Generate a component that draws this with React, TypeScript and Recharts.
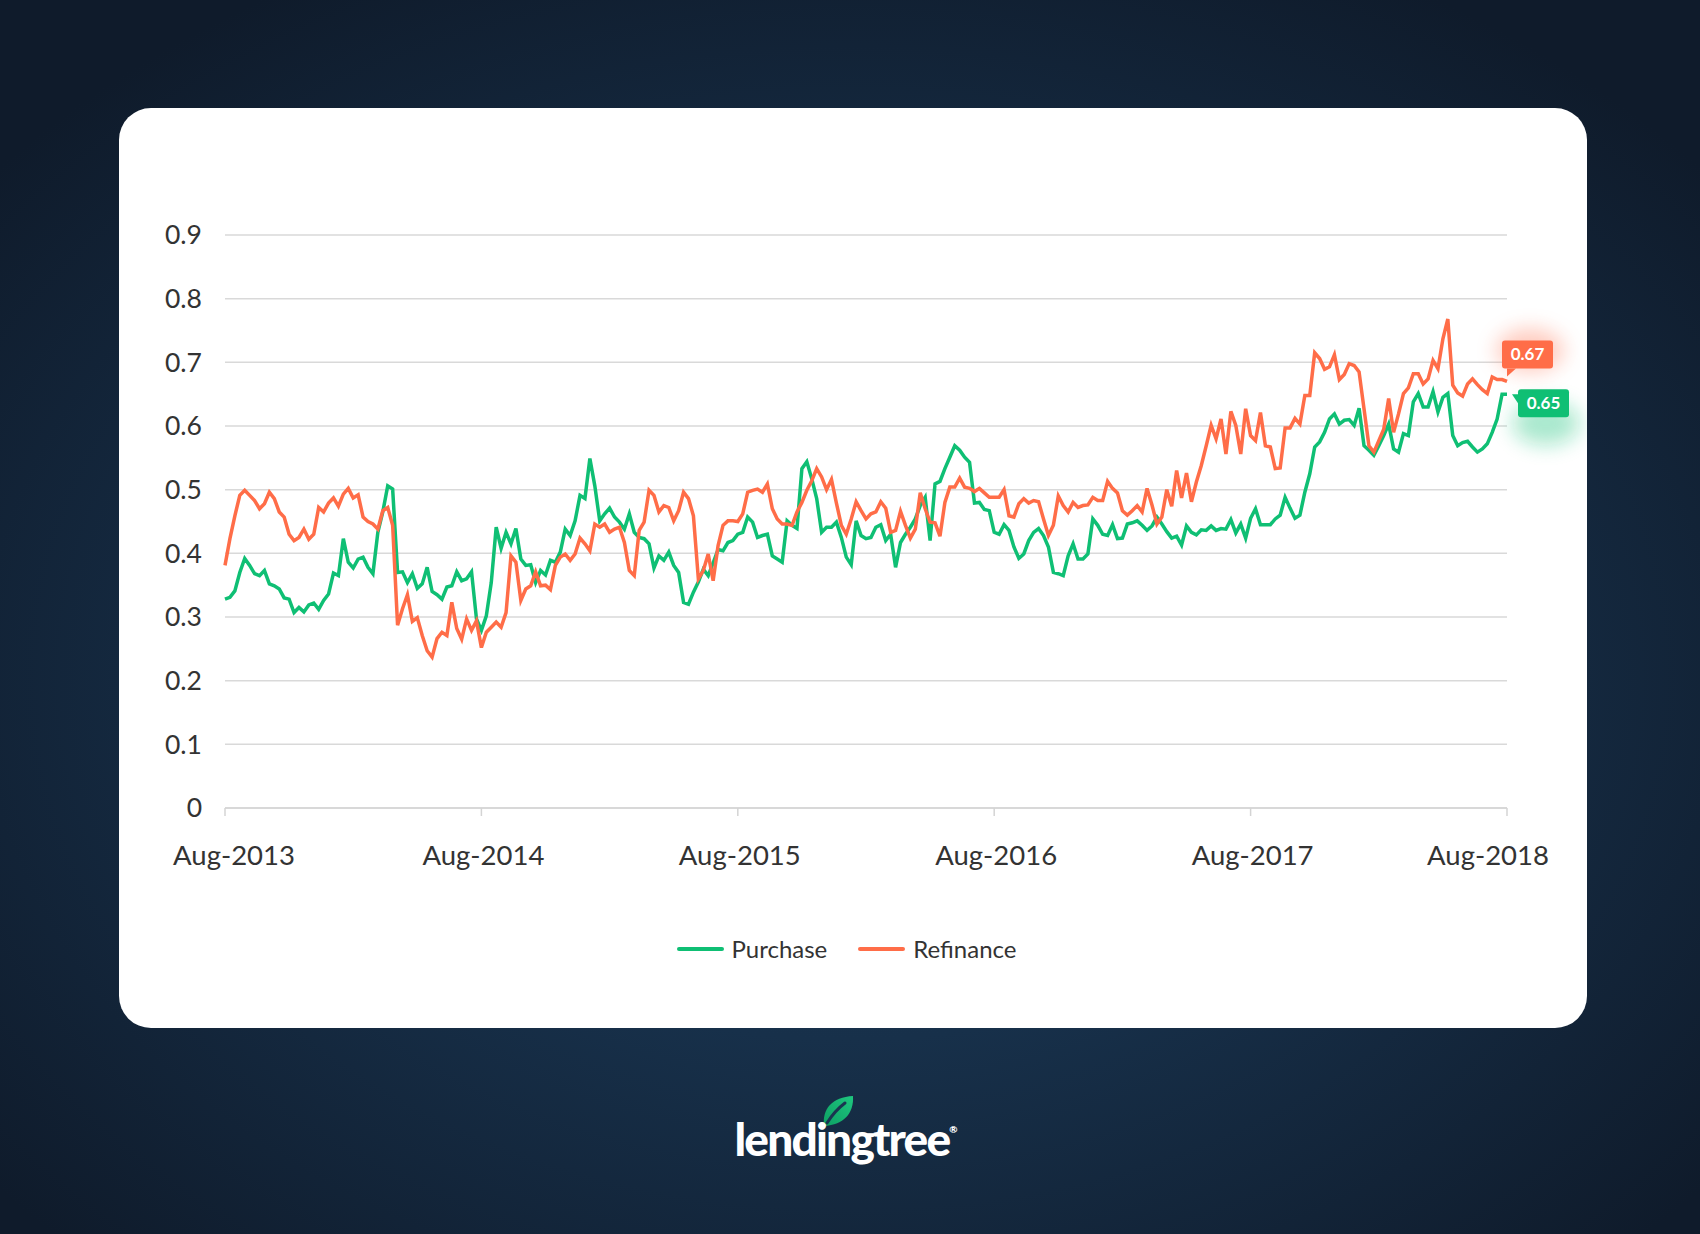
import React from "react";
import { LineChart, Line, XAxis, YAxis, CartesianGrid, Legend } from "recharts";

// weekly share, Aug-2013 .. Aug-2018 (261 weeks)
const purchase = [
  0.328, 0.331, 0.341, 0.37, 0.392, 0.381, 0.368, 0.365, 0.373, 0.352,
  0.349, 0.344, 0.33, 0.328, 0.307, 0.315, 0.308, 0.319, 0.322, 0.312,
  0.326, 0.336, 0.369, 0.365, 0.423, 0.386, 0.377, 0.391, 0.394, 0.378,
  0.368, 0.433, 0.465, 0.506, 0.501, 0.37, 0.371, 0.354, 0.368, 0.345,
  0.352, 0.378, 0.34, 0.335, 0.328, 0.347, 0.349, 0.371, 0.357, 0.36,
  0.371, 0.297, 0.279,
  0.302, 0.354, 0.441, 0.408, 0.433, 0.415, 0.439, 0.391, 0.381, 0.382,
  0.354, 0.373, 0.366, 0.389, 0.386, 0.402, 0.438, 0.428, 0.451, 0.491,
  0.486, 0.549, 0.506, 0.451, 0.462, 0.471, 0.457, 0.449, 0.438, 0.462,
  0.433, 0.425, 0.423, 0.415, 0.377, 0.396, 0.389, 0.402, 0.381, 0.37,
  0.323, 0.32, 0.339, 0.355, 0.375, 0.365, 0.385, 0.406, 0.404, 0.417,
  0.42, 0.43,
  0.433, 0.457, 0.449, 0.425, 0.428, 0.43, 0.396, 0.391, 0.386, 0.451,
  0.444, 0.439, 0.533, 0.544, 0.517, 0.486, 0.433, 0.441, 0.441, 0.449,
  0.425, 0.394, 0.382, 0.451, 0.428, 0.423, 0.425, 0.441, 0.445, 0.42,
  0.43, 0.378, 0.417, 0.43, 0.441, 0.454, 0.475, 0.488, 0.42, 0.509,
  0.513, 0.533, 0.551, 0.569, 0.562, 0.551, 0.543, 0.479, 0.48, 0.469,
  0.467, 0.433,
  0.43, 0.445, 0.436, 0.41, 0.392, 0.399, 0.42, 0.433, 0.439, 0.428,
  0.41, 0.37, 0.368, 0.365, 0.396, 0.415, 0.391, 0.391, 0.399, 0.454,
  0.444, 0.43, 0.428, 0.445, 0.423, 0.424, 0.446, 0.448, 0.451, 0.444,
  0.436, 0.443, 0.457, 0.446, 0.434, 0.424, 0.427, 0.413, 0.443, 0.433,
  0.429, 0.437, 0.436, 0.443, 0.436, 0.439, 0.438, 0.453, 0.432, 0.446,
  0.424, 0.455,
  0.47, 0.445, 0.445, 0.445, 0.454, 0.46, 0.488, 0.471, 0.455, 0.46,
  0.496, 0.525, 0.567, 0.575, 0.59, 0.611, 0.619, 0.603, 0.609, 0.61,
  0.601, 0.628, 0.569, 0.562, 0.554, 0.569, 0.585, 0.603, 0.564, 0.559,
  0.588, 0.585, 0.638, 0.651, 0.63, 0.63, 0.654, 0.622, 0.645, 0.651,
  0.585, 0.569, 0.574, 0.576, 0.567, 0.559, 0.564, 0.572, 0.59, 0.611,
  0.65, 0.65,
];

const refinance = [
  0.381, 0.423, 0.459, 0.491, 0.499, 0.491, 0.483, 0.47, 0.478, 0.496,
  0.486, 0.465, 0.457, 0.43, 0.42, 0.425, 0.438, 0.422, 0.43, 0.472,
  0.465, 0.479, 0.487, 0.474, 0.493, 0.502, 0.487, 0.492, 0.457, 0.45,
  0.446, 0.438, 0.467, 0.472, 0.444, 0.287, 0.313, 0.335, 0.293, 0.299,
  0.271, 0.247, 0.237, 0.266, 0.276, 0.271, 0.323, 0.282, 0.265, 0.297,
  0.279, 0.294, 0.252,
  0.276, 0.284, 0.292, 0.284, 0.307, 0.396, 0.386, 0.326, 0.344, 0.349,
  0.371, 0.349, 0.35, 0.343, 0.381, 0.394, 0.399, 0.389, 0.399, 0.424,
  0.415, 0.404, 0.446, 0.441, 0.446, 0.433, 0.438, 0.441, 0.417, 0.373,
  0.365, 0.436, 0.449, 0.499, 0.491, 0.465, 0.475, 0.472, 0.451, 0.467,
  0.496, 0.486, 0.459, 0.36, 0.373, 0.399, 0.357, 0.412, 0.444, 0.451,
  0.451, 0.45,
  0.462, 0.496, 0.499, 0.501, 0.496, 0.509, 0.47, 0.454, 0.446, 0.446,
  0.444, 0.465, 0.48, 0.499, 0.514, 0.533, 0.52, 0.5, 0.516, 0.479,
  0.444, 0.43, 0.454, 0.481, 0.467, 0.454, 0.462, 0.465, 0.481, 0.471,
  0.433, 0.436, 0.466, 0.444, 0.424, 0.438, 0.495, 0.47, 0.449, 0.448,
  0.427, 0.48, 0.504, 0.504, 0.518, 0.504, 0.502, 0.497, 0.502, 0.495,
  0.488, 0.488,
  0.488, 0.5, 0.459, 0.457, 0.478, 0.486, 0.479, 0.483, 0.481, 0.454,
  0.428, 0.444, 0.49, 0.475, 0.465, 0.48, 0.472, 0.475, 0.476, 0.488,
  0.483, 0.483, 0.513, 0.502, 0.495, 0.467, 0.46, 0.467, 0.475, 0.465,
  0.502, 0.476, 0.446, 0.457, 0.5, 0.474, 0.53, 0.487, 0.526, 0.481,
  0.512, 0.538, 0.569, 0.601, 0.58, 0.611, 0.556, 0.623, 0.601, 0.556,
  0.627, 0.585,
  0.577, 0.621, 0.569, 0.567, 0.533, 0.534, 0.597, 0.597, 0.612, 0.603,
  0.648, 0.648, 0.715, 0.706, 0.689, 0.693, 0.712, 0.673, 0.681, 0.698,
  0.695, 0.685, 0.627, 0.569, 0.559, 0.577, 0.595, 0.643, 0.59, 0.619,
  0.651, 0.66, 0.682, 0.682, 0.666, 0.674, 0.703, 0.69, 0.737, 0.768,
  0.664, 0.652, 0.647, 0.666, 0.674, 0.665, 0.657, 0.651, 0.677, 0.673,
  0.673, 0.67,
];

const tickWeeks = [0, 52, 104, 156, 208, 260];
const tickLabels = ["Aug-2013", "Aug-2014", "Aug-2015", "Aug-2016", "Aug-2017", "Aug-2018"];
const yTicks = [0, 0.1, 0.2, 0.3, 0.4, 0.5, 0.6, 0.7, 0.8, 0.9];

const GREEN = "#0fbf74";
const ORANGE = "#ff6d48";
const FONT = "Lato, 'Open Sans', sans-serif";
const last = purchase.length - 1;

const data = purchase.map((p, i) => ({ week: i, purchase: p, refinance: refinance[i] }));

const XTick = (props: any) => {
  const { x, y, payload, index } = props;
  const shift = index === 0 ? 9 : index === tickWeeks.length - 1 ? -19 : 2;
  return (
    <text x={x + shift} y={y} dy="0.71em" textAnchor="middle" fill="#333" fontSize={27.5} fontFamily={FONT}>
      {tickLabels[tickWeeks.indexOf(payload.value)]}
    </text>
  );
};

// value tag at the last point of a series
const tagFor = (color: string, above: boolean) => (props: any) => {
  const { x, y, index, value } = props;
  if (index !== last) return <g />;
  const bx = above ? x - 5 : x + 11;
  const by = above ? y - 41 : y - 5;
  const tail = above
    ? `${x},${y - 13} ${x + 9},${y - 13} ${x},${y - 5}`
    : `${x + 5},${y} ${x + 11},${y} ${x + 11},${y + 9}`;
  return (
    <g>
      <ellipse
        cx={bx + 28}
        cy={above ? by + 10 : by + 34}
        rx={34}
        ry={22}
        fill={color}
        opacity={0.35}
        filter="url(#tagGlow)"
      />
      <rect x={bx} y={by} width={51} height={28} rx={3} fill={color} />
      <polygon points={tail} fill={color} />
      <text x={bx + 25.5} y={by + 14} dy="0.35em" textAnchor="middle" fill="#fff" fontSize={17} fontWeight={700} fontFamily={FONT}>
        {Number(value).toFixed(2)}
      </text>
    </g>
  );
};

const LegendContent = () => (
  <div style={{ display: "flex", justifyContent: "center", alignItems: "center", fontFamily: FONT, fontSize: 24, color: "#333" }}>
    {[
      { name: "Purchase", color: GREEN },
      { name: "Refinance", color: ORANGE },
    ].map((it, i) => (
      <div key={it.name} style={{ display: "flex", alignItems: "center", marginLeft: i ? 31 : 0 }}>
        <span style={{ width: 47, height: 4, borderRadius: 2, background: it.color, marginRight: 8 }} />
        <span>{it.name}</span>
      </div>
    ))}
  </div>
);

const Leaf = () => (
  <svg width={34} height={34} viewBox="0 0 34 34" style={{ position: "absolute", left: 821, top: 1094 }}>
    <defs>
      <linearGradient id="leafG" x1="0" y1="1" x2="1" y2="0">
        <stop offset="0" stopColor="#0d9f63" />
        <stop offset="1" stopColor="#1fc77f" />
      </linearGradient>
    </defs>
    <path d="M3 32 C1 15 11 3 32 2 C33 19 23 31 3 32 Z" fill="url(#leafG)" />
    <path d="M6 29 C11 21 16 15 24 9" stroke="#1a3550" strokeWidth={3} fill="none" strokeLinecap="round" />
  </svg>
);

export default function App() {
  return (
    <div
      style={{
        position: "absolute",
        left: 0,
        top: 0,
        width: 1700,
        height: 1234,
        overflow: "hidden",
        background: "radial-gradient(ellipse 65% 65% at 50% 55%, #1f3d58 0%, #17304a 45%, #0f1b2b 100%)",
      }}
    >
      <div style={{ position: "absolute", left: 119, top: 108, width: 1468, height: 920, background: "#fff", borderRadius: 32 }}>
        <LineChart width={1468} height={900} data={data} margin={{ top: 127, right: 80, left: 0, bottom: 140 }}>
          <defs>
            <filter id="tagGlow" x="-100%" y="-100%" width="300%" height="300%">
              <feGaussianBlur stdDeviation="10" />
            </filter>
          </defs>
          <CartesianGrid vertical={false} stroke="#d9d9d9" strokeWidth={1.5} />
          <XAxis
            type="number"
            dataKey="week"
            domain={[0, 260]}
            ticks={tickWeeks}
            interval={0}
            height={60}
            axisLine={{ stroke: "#d4d4d4", strokeWidth: 1.5 }}
            tickLine={{ stroke: "#d4d4d4", strokeWidth: 1.5 }}
            tickSize={8}
            tickMargin={29}
            tick={<XTick />}
          />
          <YAxis
            domain={[0, 0.9]}
            ticks={yTicks}
            interval={0}
            width={106}
            axisLine={false}
            tickLine={false}
            tickMargin={17}
            tick={{ fill: "#333", fontSize: 26.5, fontFamily: FONT }}
          />
          <Legend
            layout="horizontal"
            verticalAlign="middle"
            align="center"
            content={<LegendContent />}
            wrapperStyle={{ top: 826, left: 0, width: 1455, height: 30 }}
          />
          <Line
            type="linear"
            dataKey="purchase"
            name="Purchase"
            stroke={GREEN}
            strokeWidth={3.5}
            dot={false}
            isAnimationActive={false}
            label={tagFor(GREEN, false)}
          />
          <Line
            type="linear"
            dataKey="refinance"
            name="Refinance"
            stroke={ORANGE}
            strokeWidth={3.5}
            dot={false}
            isAnimationActive={false}
            label={tagFor(ORANGE, true)}
          />
        </LineChart>
      </div>
      <Leaf />
      <div
        style={{
          position: "absolute",
          left: 846 - 150,
          width: 300,
          top: 1109,
          textAlign: "center",
          color: "#fff",
          fontFamily: FONT,
          fontWeight: 900,
          fontSize: 46,
          letterSpacing: -1.8,
          lineHeight: "60px",
        }}
      >
        lendingtree<sup style={{ fontSize: 10, verticalAlign: "top", lineHeight: "40px", letterSpacing: 0 }}>®</sup>
      </div>
    </div>
  );
}
